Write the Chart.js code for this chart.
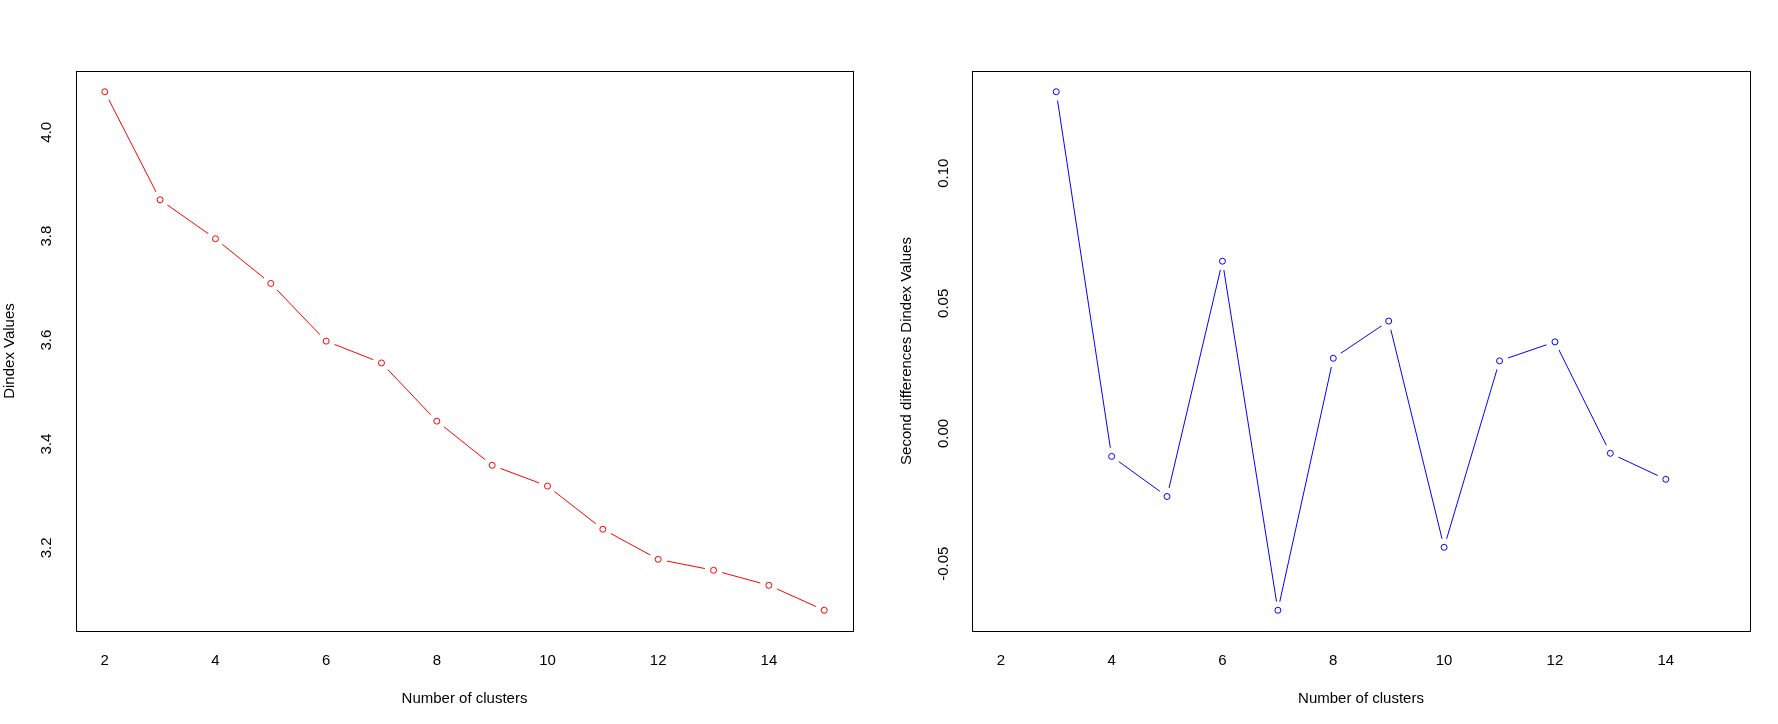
<!DOCTYPE html>
<html>
<head>
<meta charset="utf-8">
<script src="https://cdn.jsdelivr.net/npm/chart.js@4.4.1/dist/chart.umd.min.js"></script>
<style>
  html, body { margin: 0; padding: 0; background: #fff; }
  #wrap { position: relative; width: 1778px; height: 724px; }
  canvas { position: absolute; top: 0; }
  #left { left: 0; }
  #right { left: 889px; }
</style>
</head>
<body>
<div id="wrap">
  <canvas id="left" width="889" height="724"></canvas>
  <canvas id="right" width="889" height="724"></canvas>
</div>
<script>
// values
const clusters = [2, 3, 4, 5, 6, 7, 8, 9, 10, 11, 12, 13, 14, 15];
const dindex = [4.078, 3.870, 3.795, 3.709, 3.598, 3.556, 3.444, 3.359, 3.319, 3.236, 3.178, 3.157, 3.128, 3.080];

const diffClusters = [3, 4, 5, 6, 7, 8, 9, 10, 11, 12, 13, 14];
const secondDiff = [0.1313, -0.0088, -0.0242, 0.0662, -0.0679, 0.0289, 0.0432, -0.0437, 0.0279, 0.0352, -0.0076, -0.0176];

const xTicks = [2, 4, 6, 8, 10, 12, 14];
const leftYTicks = [3.2, 3.4, 3.6, 3.8, 4.0];
const rightYTicks = [-0.05, 0.00, 0.05, 0.10];

const font = { family: "'Liberation Sans', Arial, sans-serif", size: 15 };

// R style range: data range plus 4% each side
function rRange(vals) {
  const lo = Math.min(...vals), hi = Math.max(...vals);
  const pad = (hi - lo) * 0.04;
  return [lo - pad, hi + pad];
}

const boxPlugin = {
  id: "box",
  afterDraw(chart) {
    const { ctx, chartArea: a } = chart;
    ctx.save();
    ctx.strokeStyle = "#000";
    ctx.lineWidth = 1;
    ctx.strokeRect(Math.round(a.left) + 0.5, Math.round(a.top) + 0.5,
      Math.round(a.right - a.left), Math.round(a.bottom - a.top));
    ctx.restore();
  }
};

function makeChart(id, xs, ys, color, yTicks, yTitle, decimals, layout) {
  const [ymin, ymax] = rRange(ys);
  const [xmin, xmax] = rRange(clusters);

  return new Chart(document.getElementById(id), {
    type: "line",
    data: {
      datasets: [
        {
          // open circles, drawn on top
          data: xs.map((x, i) => ({ x: x, y: ys[i] })),
          showLine: false, pointRadius: 3, pointBorderWidth: 1,
          pointBackgroundColor: "#fff", pointBorderColor: color
        },
        {
          // the line; its own big white points cut the gap round each point (R type = "b")
          data: xs.map((x, i) => ({ x: x, y: ys[i] })),
          borderColor: color, borderWidth: 1, fill: false, tension: 0,
          pointRadius: 9, pointBorderWidth: 0,
          pointBackgroundColor: "#fff", pointBorderColor: "#fff"
        }
      ]
    },
    options: {
      responsive: false,
      devicePixelRatio: 1,
      animation: false,
      events: [],
      layout: { padding: { top: 71, right: layout.right, bottom: 0, left: 0 } },
      plugins: { legend: { display: false }, tooltip: { enabled: false } },
      scales: {
        x: {
          type: "linear",
          min: xmin,
          max: xmax,
          afterBuildTicks: (s) => { s.ticks = xTicks.map(v => ({ value: v })); },
          afterFit: (s) => { s.height = 93; },
          grid: { display: false, drawTicks: false },
          border: { display: false },
          ticks: { font: font, color: "#000", padding: 21, autoSkip: false, maxRotation: 0 },
          title: { display: true, text: "Number of clusters", font: font, color: "#000",
                   padding: { top: 0, bottom: 16 } }
        },
        y: {
          type: "linear",
          min: ymin,
          max: ymax,
          afterBuildTicks: (s) => { s.ticks = yTicks.map(v => ({ value: v })); },
          afterFit: (s) => { s.width = layout.axisWidth; },
          grid: { display: false, drawTicks: false },
          border: { display: false },
          ticks: {
            font: font, color: "#000", padding: layout.tickPad, autoSkip: false,
            minRotation: 90, maxRotation: 90, crossAlign: "center",
            callback: (v) => Number(v).toFixed(decimals)
          },
          title: { display: true, text: yTitle, font: font, color: "#000",
                   padding: { top: layout.titlePad, bottom: 0 } }
        }
      }
    },
    plugins: [boxPlugin]
  });
}

makeChart("left", clusters, dindex, "#ff0000", leftYTicks, "Dindex Values", 1,
  { right: 36, axisWidth: 76, tickPad: 19, titlePad: 1 });
makeChart("right", diffClusters, secondDiff, "#0000ff", rightYTicks,
  "Second differences Dindex Values", 2,
  { right: 28, axisWidth: 83, tickPad: 11, titlePad: 9 });
</script>
</body>
</html>
